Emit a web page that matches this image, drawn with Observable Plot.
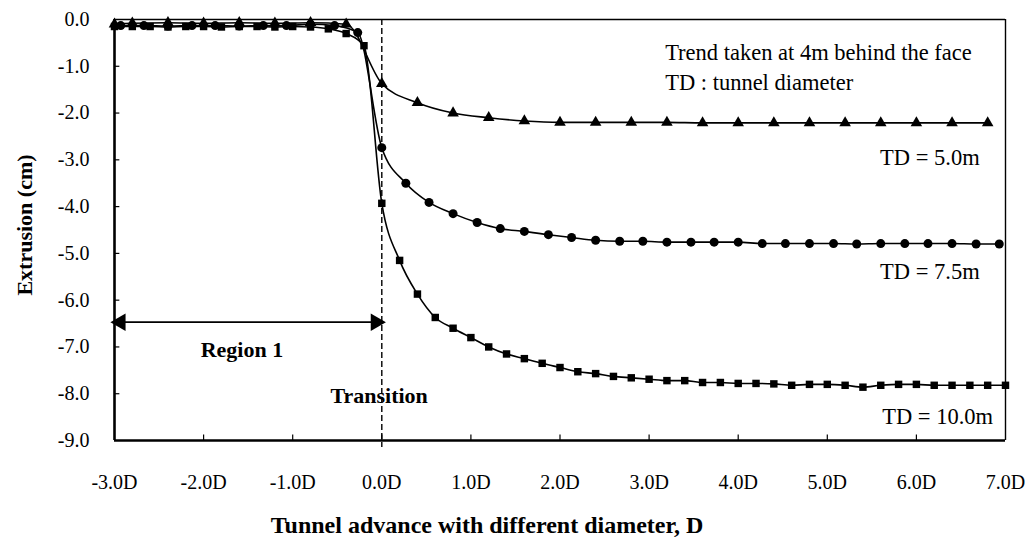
<!DOCTYPE html>
<html>
<head>
<meta charset="utf-8">
<script src="https://cdn.jsdelivr.net/npm/d3@7"></script>
<script src="https://cdn.jsdelivr.net/npm/@observablehq/plot@0.6"></script>
<style>
  html, body { margin: 0; padding: 0; background: #fff; }
  #chart { width: 1032px; height: 546px; }
</style>
</head>
<body>
<div id="chart"></div>
<script>
// ---- Data (x in tunnel diameters D, y extrusion in cm) ----
const td50X = [-3.0, -2.8, -2.4, -2.0, -1.6, -1.2, -0.8, -0.4, 0.0, 0.4, 0.8, 1.2, 1.6, 2.0, 2.4, 2.8, 3.2, 3.6, 4.0, 4.4, 4.8, 5.2, 5.6, 6.0, 6.4, 6.8];
const td50Y = [-0.10, -0.08, -0.07, -0.08, -0.07, -0.08, -0.07, -0.10, -1.37, -1.78, -2.00, -2.10, -2.17, -2.20, -2.20, -2.20, -2.20, -2.21, -2.21, -2.21, -2.21, -2.21, -2.21, -2.21, -2.21, -2.21];

const td75X = [-2.93, -2.67, -2.40, -2.13, -1.87, -1.60, -1.33, -1.07, -0.80, -0.53, -0.27, 0.0, 0.27, 0.53, 0.80, 1.07, 1.33, 1.60, 1.87, 2.13, 2.40, 2.67, 2.93, 3.20, 3.47, 3.73, 4.00, 4.27, 4.53, 4.80, 5.07, 5.33, 5.60, 5.87, 6.13, 6.40, 6.67, 6.93];
const td75Y = [-0.13, -0.13, -0.14, -0.13, -0.13, -0.14, -0.13, -0.13, -0.10, -0.13, -0.28, -2.74, -3.50, -3.91, -4.15, -4.34, -4.47, -4.53, -4.60, -4.66, -4.72, -4.74, -4.74, -4.76, -4.76, -4.76, -4.76, -4.79, -4.79, -4.79, -4.79, -4.80, -4.79, -4.79, -4.79, -4.79, -4.80, -4.80];

const td100X = [-3.0, -2.8, -2.6, -2.4, -2.2, -2.0, -1.8, -1.6, -1.4, -1.2, -1.0, -0.8, -0.6, -0.4, -0.2, 0.0, 0.2, 0.4, 0.6, 0.8, 1.0, 1.2, 1.4, 1.6, 1.8, 2.0, 2.2, 2.4, 2.6, 2.8, 3.0, 3.2, 3.4, 3.6, 3.8, 4.0, 4.2, 4.4, 4.6, 4.8, 5.0, 5.2, 5.4, 5.6, 5.8, 6.0, 6.2, 6.4, 6.6, 6.8, 7.0];
const td100Y = [-0.15, -0.15, -0.15, -0.16, -0.15, -0.15, -0.16, -0.15, -0.15, -0.16, -0.15, -0.16, -0.20, -0.30, -0.56, -3.93, -5.15, -5.87, -6.37, -6.60, -6.80, -7.00, -7.15, -7.25, -7.35, -7.44, -7.53, -7.57, -7.63, -7.66, -7.69, -7.72, -7.72, -7.76, -7.76, -7.78, -7.78, -7.79, -7.82, -7.80, -7.80, -7.82, -7.86, -7.82, -7.80, -7.80, -7.82, -7.82, -7.82, -7.82, -7.82];

const xTicks = [-3, -2, -1, 0, 1, 2, 3, 4, 5, 6, 7];
const yTicks = [0, -1, -2, -3, -4, -5, -6, -7, -8, -9];

const seriesLabels = ["TD = 5.0m", "TD = 7.5m", "TD = 10.0m"];
const seriesLabelX = [6.71, 6.71, 6.86];
const seriesLabelY = [-2.95, -5.4, -8.5];

const noteLines = ["Trend taken at 4m behind the face", "TD : tunnel diameter"];
const noteX = [3.18, 3.18];
const noteY = [-0.72, -1.35];

const regionArrow = [{x1: -3.0, x2: 0.0, y: -6.47}];
const regionLabel = [{text: "Region 1", x: -1.57, y: -7.07}, {text: "Transition", x: -0.03, y: -8.05}];

const faceX = 0.0;
const yTitle = "Extrusion (cm)";
const xTitle = "Tunnel advance with different diameter, D";

const toRows = (xs, ys) => xs.map((x, i) => ({x, y: ys[i]}));
const s50 = toRows(td50X, td50Y);
const s75 = toRows(td75X, td75Y);
const s100 = toRows(td100X, td100Y);

const fmt1 = d => d.toFixed(1);
const SERIF = "Liberation Serif, Times New Roman, serif";

const chart = Plot.plot({
  width: 1032,
  height: 546,
  marginLeft: 114,
  marginRight: 27,
  marginTop: 19,
  marginBottom: 106,
  style: "font-family: 'Liberation Serif', 'Times New Roman', serif; font-size: 20px; color: #000; background: #fff;",
  x: {domain: [-3, 7]},
  y: {domain: [-9, 0]},
  marks: [
    // frame
    Plot.ruleY([0], {stroke: "#000", strokeWidth: 1.6}),
    Plot.ruleX([7], {stroke: "#000", strokeWidth: 1.4}),
    Plot.ruleY([-9], {stroke: "#000", strokeWidth: 2.6}),
    Plot.ruleX([-3], {stroke: "#000", strokeWidth: 2.6}),
    // inward ticks
    Plot.ruleX(xTicks.slice(1, -1), {y1: -9, y2: -8.88, stroke: "#000", strokeWidth: 1.2}),
    Plot.ruleY(yTicks.slice(1, -1), {x1: -3, x2: -2.94, stroke: "#000", strokeWidth: 1.2}),
    Plot.axisX(xTicks, {tickSize: 0, tickPadding: 34, tickFormat: d => fmt1(d) + "D", fontSize: 20, fontFamily: SERIF, letterSpacing: "1.3px", label: null}),
    Plot.axisY(yTicks, {tickSize: 0, tickPadding: 25, tickFormat: fmt1, fontSize: 20, fontFamily: SERIF, letterSpacing: "1.8px", label: null}),
    // face line
    Plot.ruleX([faceX], {y1: 0, y2: -9.15, stroke: "#000", strokeWidth: 1.4, strokeDasharray: "6,3", clip: false}),
    // series lines
    Plot.line(s50, {x: "x", y: "y", curve: "monotone-x", stroke: "#000", strokeWidth: 1.6}),
    Plot.line(s75, {x: "x", y: "y", curve: "monotone-x", stroke: "#000", strokeWidth: 1.6}),
    Plot.line(s100, {x: "x", y: "y", curve: "monotone-x", stroke: "#000", strokeWidth: 1.6}),
    // markers
    Plot.dot(s50, {x: "x", y: "y", symbol: "triangle", r: 4.3, fill: "#000", stroke: "none"}),
    Plot.dot(s75, {x: "x", y: "y", symbol: "circle", r: 4.5, fill: "#000", stroke: "none"}),
    Plot.dot(s100, {x: "x", y: "y", symbol: "square", r: 4.2, fill: "#000", stroke: "none"}),
    // region arrow
    Plot.link(regionArrow, {x1: "x1", x2: "x2", y1: "y", y2: "y", stroke: "#000", strokeWidth: 1.6}),
    Plot.dot(regionArrow, {x: "x1", y: "y", symbol: "triangle", r: 6.5, rotate: -90, fill: "#000", dx: 6}),
    Plot.dot(regionArrow, {x: "x2", y: "y", symbol: "triangle", r: 6.5, rotate: 90, fill: "#000", dx: -6}),
    Plot.text(regionLabel, {x: "x", y: "y", text: "text", fontWeight: "bold", fontSize: 22, fontFamily: SERIF, letterSpacing: "1.5px", fill: "#000"}),
    // annotations
    Plot.text(noteLines, {x: (d, i) => noteX[i], y: (d, i) => noteY[i], text: d => d, textAnchor: "start", fontSize: 22.5, fontFamily: SERIF, letterSpacing: "0.9px", fill: "#000"}),
    Plot.text(seriesLabels, {x: (d, i) => seriesLabelX[i], y: (d, i) => seriesLabelY[i], text: d => d, textAnchor: "end", fontSize: 22.5, fontFamily: SERIF, letterSpacing: "1.2px", fill: "#000"}),
    // axis titles
    Plot.text([yTitle], {frameAnchor: "left", textAnchor: "middle", text: d => d, rotate: -90, dx: -90, dy: -5, fontWeight: "bold", fontSize: 22, fontFamily: SERIF, letterSpacing: "1px", fill: "#000"}),
    Plot.text([xTitle], {frameAnchor: "bottom", textAnchor: "middle", text: d => d, dx: -73, dy: 92, fontWeight: "bold", fontSize: 24, fontFamily: SERIF, letterSpacing: "2.2px", fill: "#000"})
  ]
});
document.getElementById("chart").appendChild(chart);
</script>
</body>
</html>
